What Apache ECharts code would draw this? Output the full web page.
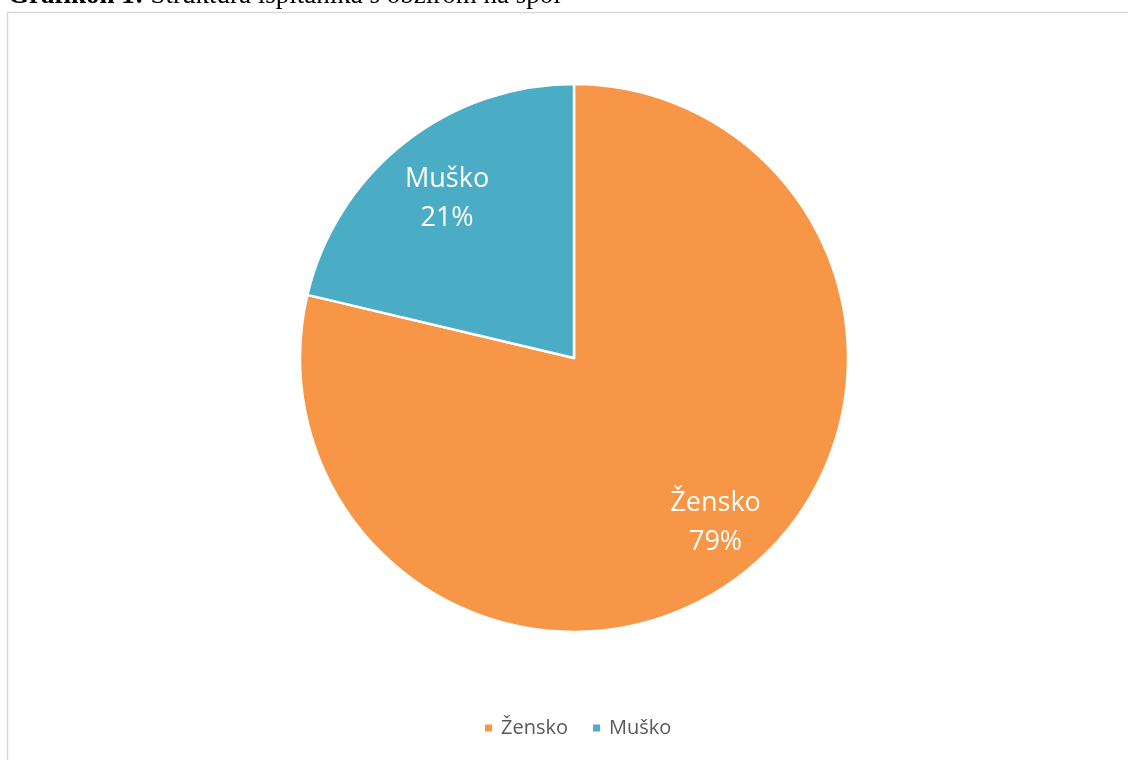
<!DOCTYPE html>
<html><head><meta charset="utf-8">
<script src="https://cdn.jsdelivr.net/npm/echarts@6/dist/echarts.min.js"></script>
<style>html,body{margin:0;padding:0;background:#fff}#c{width:1128px;height:760px}</style>
</head><body><div id="c"></div>
<script>
const categories = ['Žensko', 'Muško'];
const values = [78.7, 21.3];
const colors = ['#F79646', '#4BACC6'];
const titleBold = 'Grafikon 1:';
const titleRest = ' Struktura ispitanika s obzirom na spol';

const chart = echarts.init(document.getElementById('c'));
const data = categories.map((n, i) => ({ name: n, value: values[i] }));
// one transparent label ring per category so each label can sit at its own radius
const labelInner = [141, 126];
const labelPads = [[0, 0, 0, 22], [0, 2, 0, 0]];
const labelSeries = categories.map((c, k) => ({
  type: 'pie', center: [574, 358], radius: [labelInner[k], 274], startAngle: 90, clockwise: true,
  silent: true, legendHoverLink: false, percentPrecision: 0,
  itemStyle: { color: 'rgba(0,0,0,0)' }, labelLine: { show: false },
  data: categories.map((n, i) => ({ name: n, value: values[i],
    label: { show: i === k, padding: labelPads[k] } })),
  label: { position: 'inside', formatter: '{b}\n{d}%', color: '#fff',
    fontFamily: '"Open Sans"', fontSize: 27, lineHeight: 39 }
}));
chart.setOption({
  animation: false,
  color: colors,
  graphic: [
    { type: 'rect', shape: { x: 7.5, y: 12.5, width: 1130, height: 760 }, style: { fill: 'none', stroke: '#d9d9d9', lineWidth: 1.5 }, z: 0 },
    { type: 'text', x: 8, y: -4, style: {
        rich: {
          b: { fontFamily: '"Liberation Serif"', fontWeight: 'bold', fontSize: 27, fill: '#000' },
          n: { fontFamily: '"Liberation Serif"', fontWeight: 'normal', fontSize: 27, fill: '#000' }
        },
        text: '{b|' + titleBold + '}{n|' + titleRest + '}', verticalAlign: 'middle' } }
  ],
  legend: {
    bottom: 17, left: 478, icon: 'rect', itemWidth: 9, itemHeight: 9, itemGap: 23,
    textStyle: { fontFamily: '"Open Sans"', fontSize: 20, color: '#595959', padding: [0, 0, 0, 3] },
    data: categories
  },
  series: [
    {
      type: 'pie', center: [574, 358], radius: [0, 274], startAngle: 90, clockwise: true,
      data: data, label: { show: false }, labelLine: { show: false },
      itemStyle: { borderColor: '#fff', borderWidth: 2.5 }, silent: true
    }
  ].concat(labelSeries)
});
</script></body></html>
